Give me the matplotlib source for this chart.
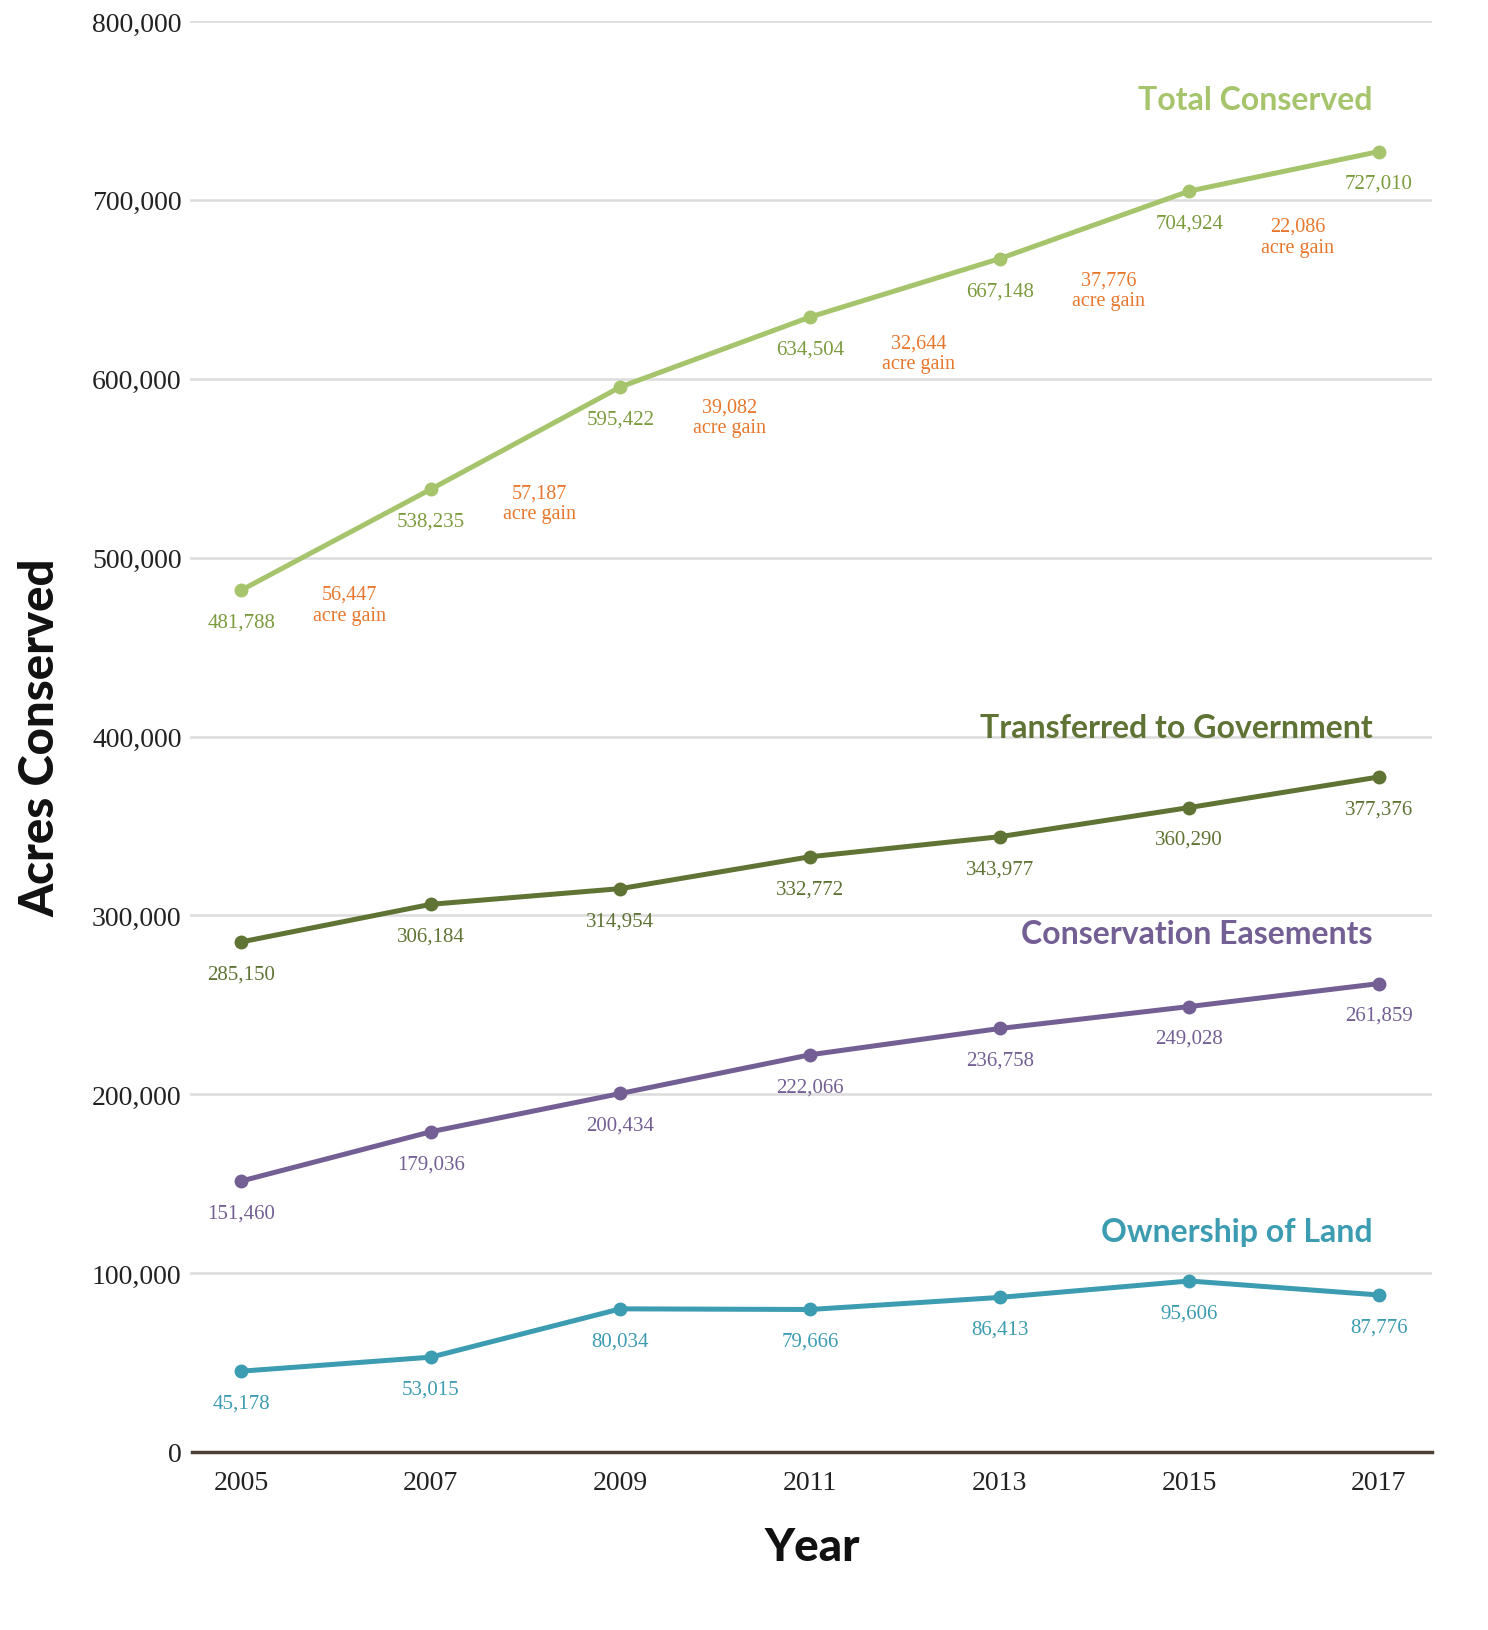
import matplotlib
matplotlib.use("Agg")
import matplotlib.pyplot as plt
import numpy as np

# data
years = [2005, 2007, 2009, 2011, 2013, 2015, 2017]
total = [481788, 538235, 595422, 634504, 667148, 704924, 727010]
transferred = [285150, 306184, 314954, 332772, 343977, 360290, 377376]
easements = [151460, 179036, 200434, 222066, 236758, 249028, 261859]
ownership = [45178, 53015, 80034, 79666, 86413, 95606, 87776]

series_names = ["Total Conserved", "Transferred to Government",
                "Conservation Easements", "Ownership of Land"]
series_vals = [total, transferred, easements, ownership]
line_colors = ["#a6c46c", "#5f7334", "#735f93", "#3c9cb1"]
text_colors = ["#7b9b3d", "#5f7334", "#735f93", "#3c9cb1"]
title_y = [756000, 405000, 290000, 123500]

gain_color = "#e8772e"
serif = "Liberation Serif"
sans = "Lato"

fig = plt.figure(figsize=(14.88, 16.31), dpi=100)
ax = fig.add_axes([190 / 1488, 1 - 1453 / 1631, 1242 / 1488, (1453 - 22) / 1631])

ax.set_xlim(2004.46, 2017.56)
ax.set_ylim(0, 800000)

yt = np.arange(0, 800001, 100000)
ax.set_yticks(yt)
ax.set_yticklabels([f"{v:,}" for v in yt], fontfamily=serif, fontsize=20, color="#222222")
ax.set_xticks(years)
ax.set_xticklabels([str(y) for y in years], fontfamily=serif, fontsize=20, color="#222222")
ax.tick_params(axis="y", length=0, pad=6)
ax.tick_params(axis="x", length=0, pad=13)

for v in yt[1:]:
    ax.axhline(v, color="#dcdcdc", lw=1.8, zorder=0)
for s in ["top", "right", "left"]:
    ax.spines[s].set_visible(False)
ax.spines["bottom"].set_color("#4a4036")
ax.spines["bottom"].set_linewidth(2.5)
ax.spines["bottom"].set_bounds(2004.48, 2017.56)

for name, vals, lc, tc, ty in zip(series_names, series_vals, line_colors, text_colors, title_y):
    ax.plot(years, vals, color=lc, lw=3.6, marker="o", markersize=9, zorder=3)
    for x, v in zip(years, vals):
        ax.annotate(f"{v:,}", (x, v), xytext=(0, -23), textcoords="offset points",
                    ha="center", va="center", fontfamily=serif, fontsize=15, color=tc)
    ax.text(2016.93, ty, name, ha="right", va="center", fontfamily=sans,
            fontweight="bold", fontsize=23, color=lc)

# acre gains between survey years for the total
gains = np.diff(total)
for i, g in enumerate(gains):
    xm = (years[i] + years[i + 1]) / 2
    ym = (total[i] + total[i + 1]) / 2
    ax.annotate(f"{g:,}\nacre gain", (xm, ym), xytext=(10, -47), textcoords="offset points",
                ha="center", va="center", fontfamily=serif, fontsize=14.5,
                color=gain_color, linespacing=1.15)

fig.text(40 / 1488, 1 - 738 / 1631, "Acres Conserved", rotation=90, ha="center", va="center",
         fontfamily=sans, fontweight="black", fontsize=34, color="#111111")
fig.text(812 / 1488, 1 - 1548 / 1631, "Year", ha="center", va="center",
         fontfamily=sans, fontweight="black", fontsize=33, color="#111111")

fig.savefig("out.png", dpi=100)
